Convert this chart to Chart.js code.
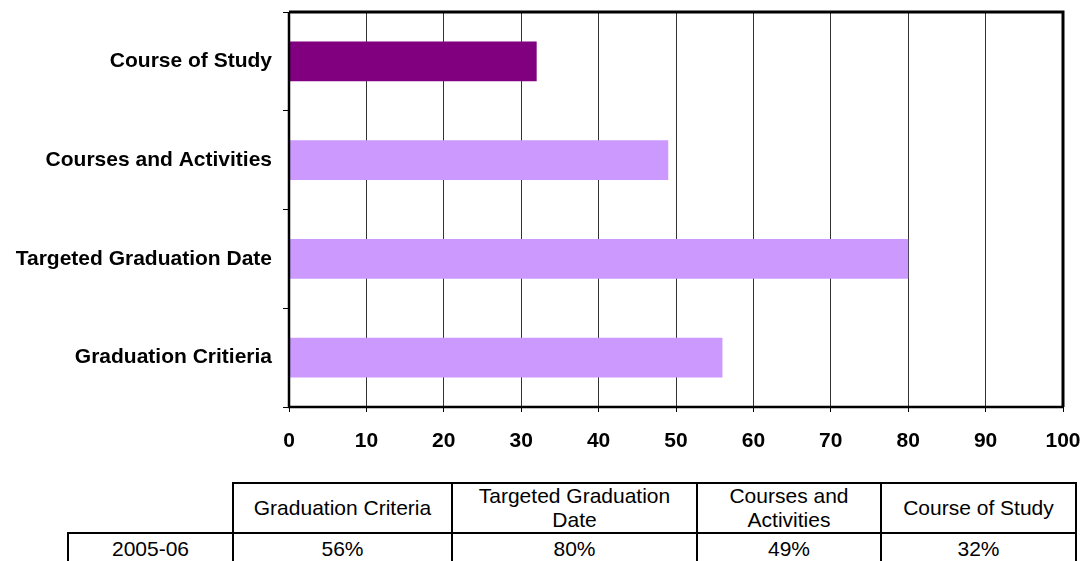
<!DOCTYPE html>
<html>
<head>
<meta charset="utf-8">
<script src="https://cdn.jsdelivr.net/npm/chart.js@4"></script>
<style>
  html, body { margin: 0; padding: 0; background: #fff; }
  body { width: 1083px; height: 561px; position: relative; overflow: hidden; font-family: "Liberation Sans", Arial, sans-serif; }
  #wrap { position: absolute; left: 0; top: 0; width: 1083px; height: 470px; }
  table { position: absolute; top: 482px; left: 67px; width: 1008px; table-layout: fixed; border-collapse: collapse; font-family: "Liberation Sans", Arial, sans-serif; font-size: 21px; color: #000; }
  td { border: 2px solid #000; text-align: center; padding: 0; line-height: 24px; }
  td.blank { border-top: none; border-left: none; }
</style>
</head>
<body>
<div id="wrap"><canvas id="c" width="1083" height="470"></canvas></div>
<table id="tbl"></table>
<script>
// ---- data ----
const categories = ["Course of Study", "Courses and Activities", "Targeted Graduation Date", "Graduation Critieria"];
const values = [32, 49, 80, 56];
const barColors = ["#800080", "#CC99FF", "#CC99FF", "#CC99FF"];
const xTicks = [0, 10, 20, 30, 40, 50, 60, 70, 80, 90, 100];
const tableHeaders = ["Graduation Criteria", "Targeted Graduation<br>Date", "Courses and<br>Activities", "Course of Study"];
const tableRowLabel = "2005-06";
const tableValues = ["56%", "80%", "49%", "32%"];

// ---- table ----
const colW = [165, 219, 245, 184, 195];
let html = '<colgroup>' + colW.map(w => '<col style="width:' + w + 'px">').join('') + '</colgroup>';
html += '<tr style="height:50px"><td class="blank"></td>';
tableHeaders.forEach(h => { html += '<td>' + h + '</td>'; });
html += '</tr><tr style="height:32px"><td>' + tableRowLabel + '</td>';
tableValues.forEach(v => { html += '<td>' + v + '</td>'; });
html += '</tr>';
document.getElementById('tbl').innerHTML = html;

// ---- chart ----
const frame = {
  id: 'frame',
  afterDraw(chart) {
    const a = chart.chartArea, ctx = chart.ctx;
    ctx.save();
    ctx.strokeStyle = '#000';
    ctx.lineWidth = 3;
    ctx.beginPath();
    ctx.moveTo(a.left, a.top); ctx.lineTo(a.right, a.top); ctx.lineTo(a.right, a.bottom);
    ctx.stroke();
    ctx.lineWidth = 2.5;
    ctx.beginPath();
    ctx.moveTo(a.left, a.top); ctx.lineTo(a.left, a.bottom); ctx.lineTo(a.right, a.bottom);
    ctx.stroke();
    ctx.restore();
  }
};

new Chart(document.getElementById('c'), {
  type: 'bar',
  data: {
    labels: categories,
    datasets: [{ data: values, backgroundColor: barColors, borderWidth: 0, barPercentage: 0.81, categoryPercentage: 0.5 }]
  },
  options: {
    indexAxis: 'y',
    responsive: false,
    animation: false,
    layout: { padding: { top: 12, right: 20, left: 0, bottom: 0 } },
    plugins: { legend: { display: false }, tooltip: { enabled: false } },
    scales: {
      x: {
        min: 0, max: 100,
        afterBuildTicks(s) { s.ticks = xTicks.map(v => ({ value: v })); },
        afterFit(s) { s.height = 63; s.paddingLeft = 0; s.paddingRight = 0; },
        border: { display: false },
        grid: { color: '#333', lineWidth: 1, tickLength: 5, drawTicks: true, tickColor: '#000' },
        ticks: { color: '#000', padding: 17, font: { family: 'Liberation Sans', size: 21, weight: 'bold' } }
      },
      y: {
        afterFit(s) { s.width = 289; s.paddingTop = 0; s.paddingBottom = 0; },
        border: { display: false },
        grid: { drawOnChartArea: false, drawTicks: true, tickLength: 6, color: '#000', offset: true },
        ticks: { color: '#000', padding: 11, font: { family: 'Liberation Sans', size: 21, weight: 'bold' } }
      }
    }
  },
  plugins: [frame]
});
</script>
</body>
</html>
